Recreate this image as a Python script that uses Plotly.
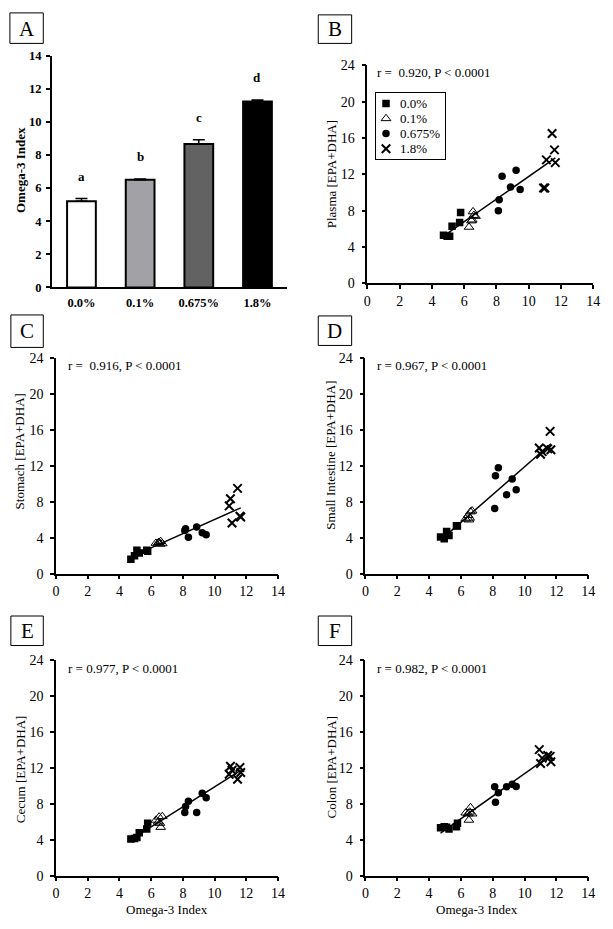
import numpy as np
import plotly.graph_objects as go

W, H = 613, 929
FONT = "Liberation Serif"

# ---------------- data ----------------
groups = ["0.0%", "0.1%", "0.675%", "1.8%"]

# Panel A: Omega-3 Index (mean, SEM)
bar_means = [5.2, 6.5, 8.65, 11.22]
bar_sem = [0.16, 0.05, 0.26, 0.10]
bar_letters = ["a", "b", "c", "d"]
bar_colors = ["#ffffff", "#a2a2a6", "#626262", "#000000"]

# Omega-3 Index of each animal (x values, shared by panels B-F)
x_00 = [4.72, 4.95, 5.10, 5.25, 5.72, 5.78]
x_01 = [6.30, 6.45, 6.50, 6.55, 6.60, 6.70]
x_0675 = [8.12, 8.17, 8.35, 8.87, 9.22, 9.47]
x_18 = [10.92, 11.00, 11.10, 11.45, 11.60, 11.65]

# Tissue EPA+DHA for each animal
plasma_00 = [5.3, 5.2, 5.2, 6.3, 6.7, 7.8]
plasma_01 = [6.2, 6.9, 7.0, 7.9, 7.5, 7.4]
plasma_0675 = [8.0, 9.2, 11.8, 10.6, 12.45, 10.35]
plasma_18 = [10.5, 10.5, 13.6, 16.5, 14.7, 13.3]

stomach_00 = [1.6, 2.0, 2.6, 2.3, 2.6, 2.5]
stomach_01 = [3.4, 3.45, 3.5, 3.3, 3.6, 3.35]
stomach_0675 = [4.8, 5.0, 4.05, 5.2, 4.55, 4.35]
stomach_18 = [7.55, 8.35, 5.65, 9.5, 6.4, 6.3]

smallint_00 = [4.1, 3.9, 4.7, 4.25, 5.35, 5.3]
smallint_01 = [6.1, 6.5, 6.0, 6.2, 6.9, 7.0]
smallint_0675 = [7.25, 10.9, 11.8, 8.8, 10.55, 9.35]
smallint_18 = [14.0, 13.3, 13.6, 13.9, 15.85, 13.8]

cecum_00 = [4.1, 4.15, 4.25, 4.8, 5.2, 5.85]
cecum_01 = [6.2, 6.0, 6.55, 5.85, 5.4, 6.6]
cecum_0675 = [7.05, 7.7, 8.3, 7.05, 9.2, 8.7]
cecum_18 = [11.3, 12.2, 11.75, 10.75, 12.05, 11.5]

colon_00 = [5.35, 5.45, 5.4, 5.2, 5.45, 5.85]
colon_01 = [7.0, 6.9, 6.2, 7.1, 7.6, 6.9]
colon_0675 = [9.9, 8.2, 9.25, 9.9, 10.2, 9.95]
colon_18 = [14.05, 12.5, 13.1, 13.4, 13.3, 12.7]

x_ticks = [0, 2, 4, 6, 8, 10, 12, 14]
y_ticks = [0, 4, 8, 12, 16, 20, 24]
bar_y_ticks = [0, 2, 4, 6, 8, 10, 12, 14]

# ---------------- layout helpers ----------------
def fx(p):
    return p / W

def fy(p):
    return 1 - p / H

xs_groups = [x_00, x_01, x_0675, x_18]

panels = [
    dict(letter="B", ytitle="Plasma [EPA+DHA]", r="r =  0.920, P < 0.0001",
         ys=[plasma_00, plasma_01, plasma_0675, plasma_18],
         xpx=(370, 600), ypx=(281, 59.3), box=(320, 8, 354, 37), ytx=333, yty=170,
         rpos=(378, 67), xtitle=False),
    dict(letter="C", ytitle="Stomach [EPA+DHA]", r="r =  0.916, P < 0.0001",
         ys=[stomach_00, stomach_01, stomach_0675, stomach_18],
         xpx=(53, 279), ypx=(576, 357), box=(7, 313, 40, 346), ytx=16, yty=452,
         rpos=(63, 364), xtitle=False),
    dict(letter="D", ytitle="Small Intestine [EPA+DHA]", r="r = 0.967, P < 0.0001",
         ys=[smallint_00, smallint_01, smallint_0675, smallint_18],
         xpx=(368, 595), ypx=(576, 357), box=(320, 314, 354, 344), ytx=333, yty=456,
         rpos=(378, 364), xtitle=False),
    dict(letter="E", ytitle="Cecum [EPA+DHA]", r="r = 0.977, P < 0.0001",
         ys=[cecum_00, cecum_01, cecum_0675, cecum_18],
         xpx=(53, 279), ypx=(883, 664), box=(7, 619, 40, 649), ytx=17, yty=775,
         rpos=(63, 672), xtitle=True),
    dict(letter="F", ytitle="Colon [EPA+DHA]", r="r = 0.982, P < 0.0001",
         ys=[colon_00, colon_01, colon_0675, colon_18],
         xpx=(368, 595), ypx=(883, 664), box=(320, 619, 354, 649), ytx=333, yty=773,
         rpos=(378, 672), xtitle=True),
]

markers = [
    dict(symbol="square", size=7.5, color="black"),
    dict(symbol="triangle-up-open", size=8.5, color="black", line=dict(width=1, color="black")),
    dict(symbol="circle", size=7.5, color="black"),
    dict(symbol="x-thin", size=8.5, color="black", line=dict(width=2, color="black")),
]

fig = go.Figure()
layout = dict(
    width=W, height=H,
    margin=dict(l=0, r=0, t=0, b=0),
    paper_bgcolor="white", plot_bgcolor="white",
    font=dict(family=FONT, color="black", size=13),
    showlegend=False,
)
annotations = []
shapes = []


def ann(x, y, text, size=13, weight="normal", angle=0, xanchor="center"):
    return dict(x=fx(x), y=fy(y), xref="paper", yref="paper", text=text,
                textangle=angle, showarrow=False, xanchor=xanchor, yanchor="middle",
                font=dict(family=FONT, size=size, color="black", weight=weight))


# ---------------- Panel A ----------------
fig.add_trace(go.Bar(
    x=groups, y=bar_means, width=0.49,
    marker=dict(color=bar_colors, line=dict(color="black", width=2)),
    error_y=dict(type="data", array=bar_sem, arrayminus=[0] * 4, symmetric=False,
                 color="black", thickness=1.5, width=6),
    xaxis="x", yaxis="y", showlegend=False,
))
layout["xaxis"] = dict(domain=[fx(49), fx(288)], anchor="y", type="category",
                       range=[-0.5, 3.5], showline=True, linecolor="black", linewidth=2,
                       ticks="", showgrid=False, zeroline=False, ticklabelstandoff=3,
                       tickfont=dict(family=FONT, size=12.5, color="black", weight="bold"))
layout["yaxis"] = dict(domain=[fy(285), fy(49.3)], anchor="x", range=[0, 14],
                       tickvals=bar_y_ticks, showline=True, linecolor="black", linewidth=2,
                       ticks="outside", ticklen=4, tickwidth=2, tickcolor="black",
                       showgrid=False, zeroline=False, ticklabelstandoff=2,
                       tickfont=dict(family=FONT, size=12.5, color="black", weight="bold"))
for g, m, s, lt in zip(groups, bar_means, bar_sem, bar_letters):
    annotations.append(dict(x=g, y=m + s + 1.33, xref="x", yref="y", text=lt,
                            showarrow=False, xanchor="center", yanchor="middle",
                            font=dict(family=FONT, size=13, color="black", weight="bold")))
annotations.append(ann(17, 166, "Omega-3 Index", weight="bold", angle=-90))
shapes.append(dict(type="rect", xref="paper", yref="paper", x0=fx(6), x1=fx(40),
                   y0=fy(37), y1=fy(6), line=dict(color="black", width=1)))
annotations.append(ann(23, 22, "A", size=21))

# ---------------- Panels B-F ----------------
for i, p in enumerate(panels):
    n = i + 2
    xa, ya = f"x{n}", f"y{n}"
    all_x = np.concatenate([np.array(v, float) for v in xs_groups])
    all_y = np.concatenate([np.array(v, float) for v in p["ys"]])
    slope, icpt = np.polyfit(all_x, all_y, 1)
    lx = np.array([all_x.min(), all_x.max()])
    fig.add_trace(go.Scatter(x=lx, y=slope * lx + icpt, mode="lines",
                             line=dict(color="black", width=1.5),
                             xaxis=xa, yaxis=ya, showlegend=False, hoverinfo="skip"))
    for gi, (gname, gx, gy) in enumerate(zip(groups, xs_groups, p["ys"])):
        fig.add_trace(go.Scatter(x=gx, y=gy, mode="markers", name=gname,
                                 marker=markers[gi], xaxis=xa, yaxis=ya,
                                 showlegend=False))
    layout[f"xaxis{n}"] = dict(domain=[fx(p["xpx"][0]), fx(p["xpx"][1])], anchor=ya,
                               range=[0, 14], tickvals=x_ticks, showline=True,
                               linecolor="black", linewidth=1.5, ticks="outside",
                               ticklen=4, tickwidth=1.5, tickcolor="black",
                               showgrid=False, zeroline=False,
                               tickfont=dict(family=FONT, size=14, color="black"))
    layout[f"yaxis{n}"] = dict(domain=[fy(p["ypx"][0]), fy(p["ypx"][1])], anchor=xa,
                               range=[0, 24], tickvals=y_ticks, showline=True,
                               linecolor="black", linewidth=1.5, ticks="outside",
                               ticklen=4, tickwidth=1.5, tickcolor="black",
                               showgrid=False, zeroline=False, ticklabelstandoff=4,
                               tickfont=dict(family=FONT, size=14, color="black"))
    annotations.append(ann(p["ytx"], p["yty"], p["ytitle"], angle=-90))
    annotations.append(ann(p["rpos"][0], p["rpos"][1], p["r"], xanchor="left"))
    if p["xtitle"]:
        annotations.append(ann((p["xpx"][0] + p["xpx"][1]) / 2, 917, "Omega-3 Index"))
    bx0, by0, bx1, by1 = p["box"]
    shapes.append(dict(type="rect", xref="paper", yref="paper", x0=fx(bx0), x1=fx(bx1),
                       y0=fy(by1), y1=fy(by0), line=dict(color="black", width=1)))
    annotations.append(ann((bx0 + bx1) / 2, (by0 + by1) / 2, p["letter"], size=21))

# ---------------- Legend of panel B (boxed key) ----------------
legend_marker_x = 10
legend_text_x = 22
for gi, gname in enumerate(groups):
    fig.add_trace(go.Scatter(x=[legend_marker_x], y=[gname], mode="markers",
                             marker=markers[gi], xaxis="x7", yaxis="y7",
                             showlegend=False, hoverinfo="skip"))
    annotations.append(dict(x=legend_text_x, y=gname, xref="x7", yref="y7", text=gname,
                            showarrow=False, xanchor="left", yanchor="middle",
                            font=dict(family=FONT, size=13, color="black")))
layout["xaxis7"] = dict(domain=[fx(379), fx(449)], anchor="y7", range=[0, 70],
                        showline=True, mirror=True, linecolor="black", linewidth=1,
                        showticklabels=False, ticks="", showgrid=False, zeroline=False)
layout["yaxis7"] = dict(domain=[fy(154), fy(87)], anchor="x7", type="category",
                        categoryorder="array", categoryarray=groups,
                        range=[3.65, -0.717], showline=True, mirror=True,
                        linecolor="black", linewidth=1, showticklabels=False, ticks="",
                        showgrid=False, zeroline=False)

layout["annotations"] = annotations
layout["shapes"] = shapes
fig.update_layout(**layout)
fig.write_html("out.html", config={"displayModeBar": False},
               post_script="document.body.style.margin='0';document.body.style.overflow='hidden';")
